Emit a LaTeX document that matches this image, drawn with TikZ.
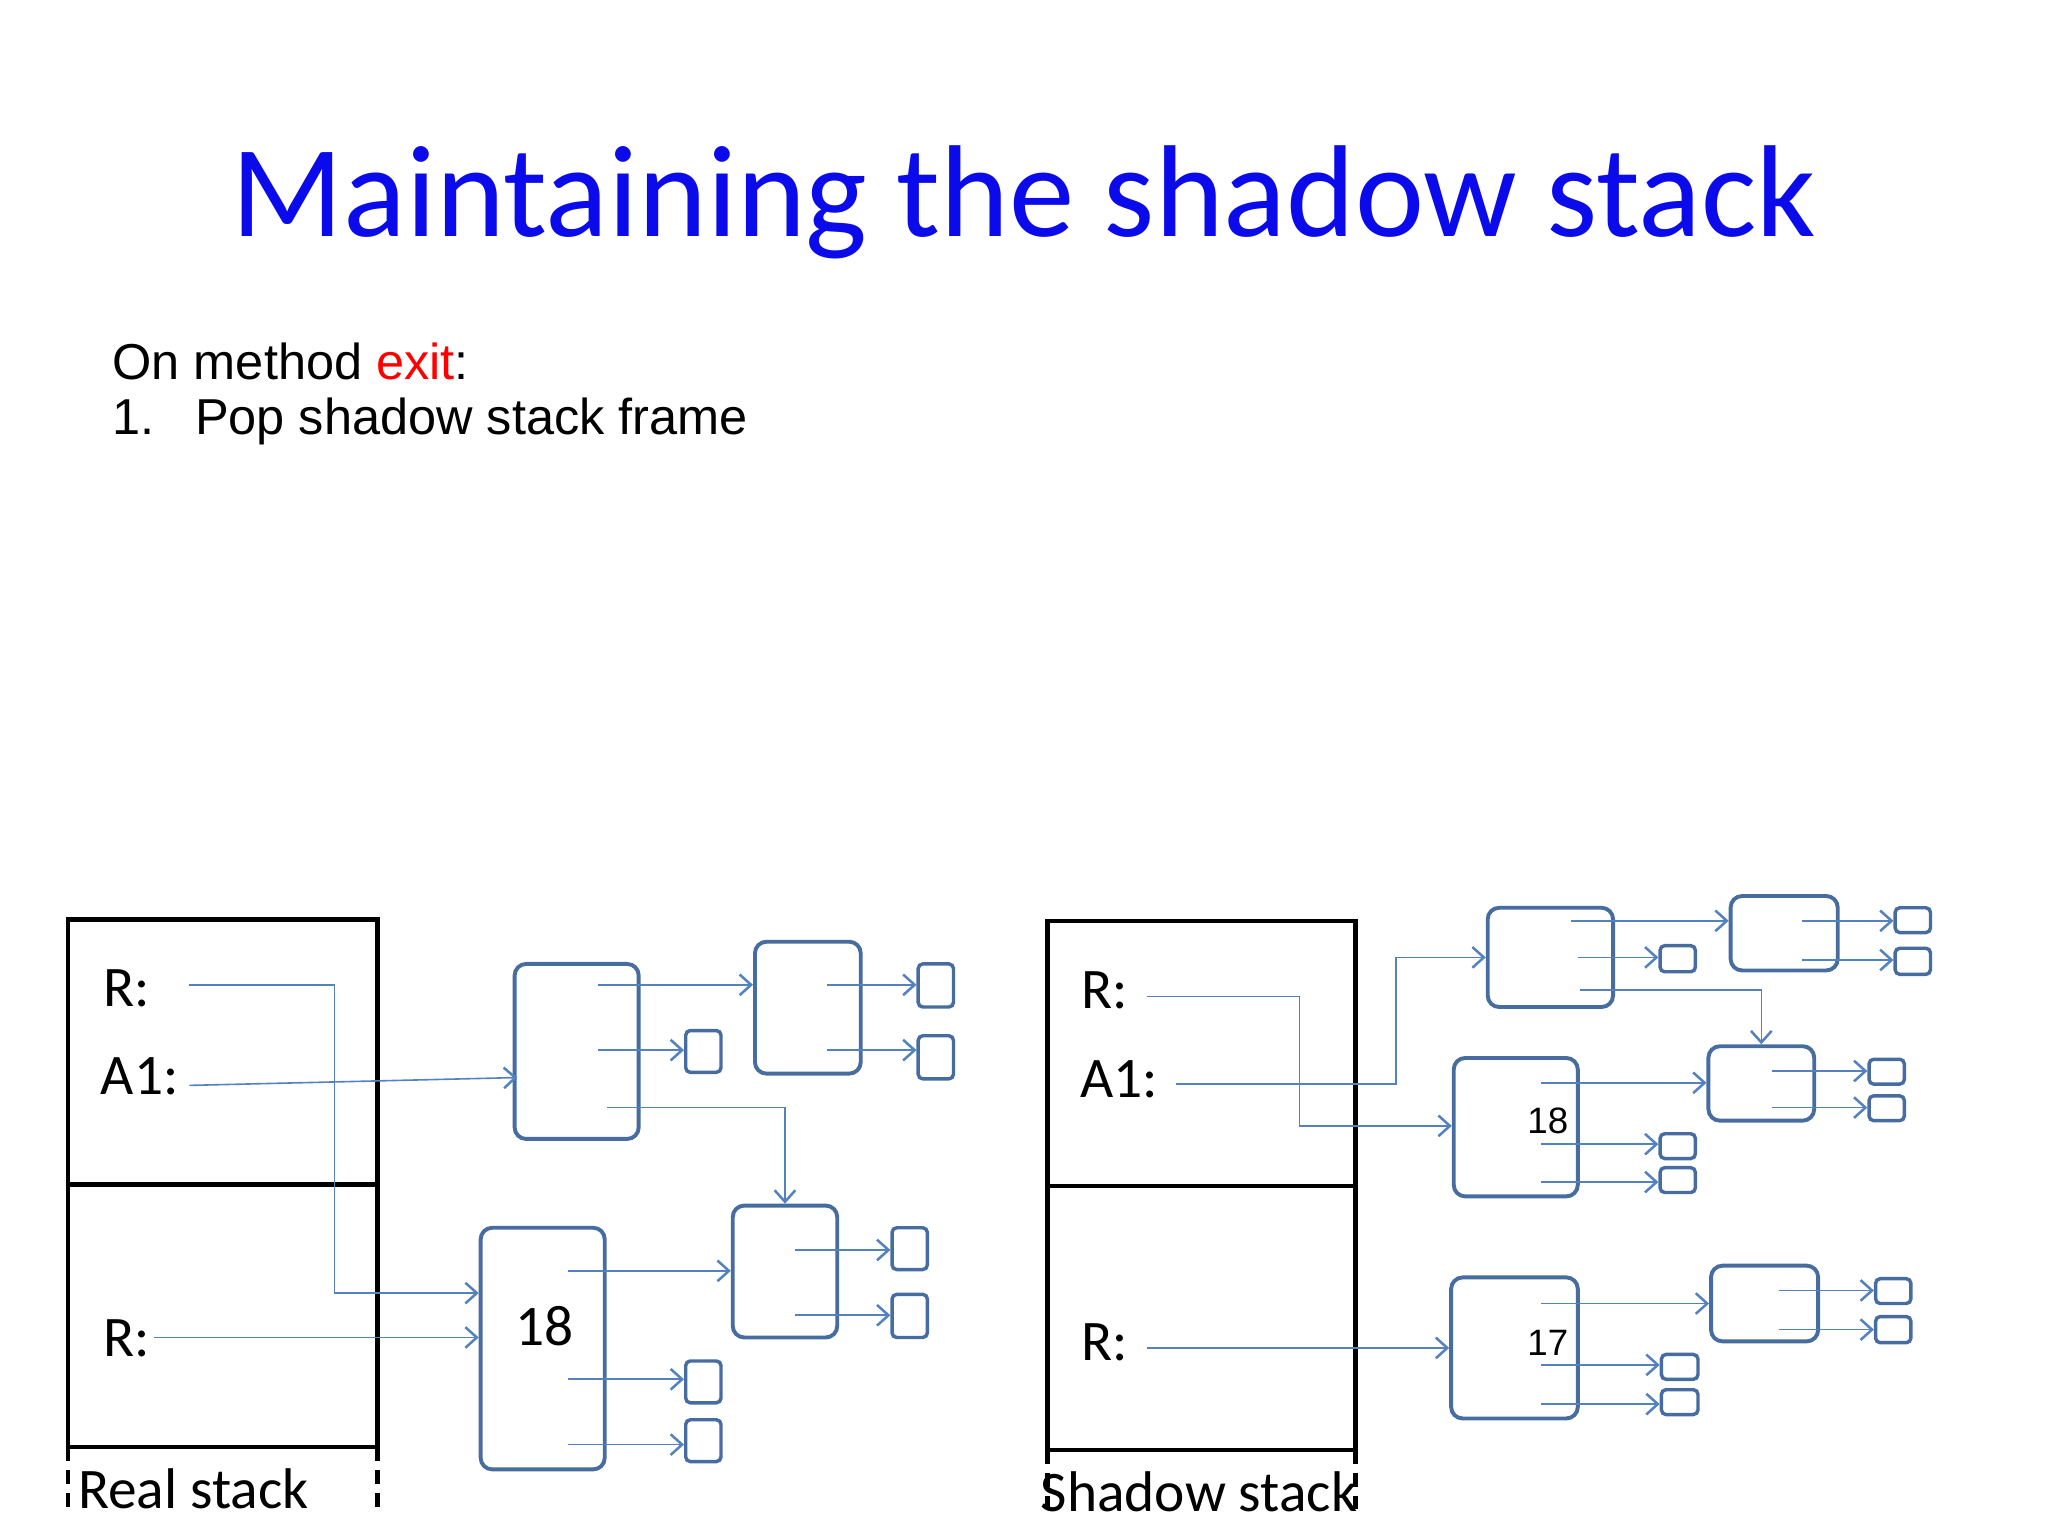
\documentclass[tikz,border=0pt]{standalone}
\usepackage{fontspec}
\setmainfont{Carlito}
\newfontfamily\arialf{Liberation Sans}
\usetikzlibrary{arrows.meta}
\definecolor{boxc}{RGB}{70,108,160}
\definecolor{arrc}{RGB}{84,130,190}
\definecolor{titleb}{RGB}{10,10,235}
\tikzset{
 obj/.style={draw=boxc,line width=1.7pt,rounded corners=5pt,inner sep=0pt},
 sobj/.style={draw=boxc,line width=1.5pt,rounded corners=2pt,inner sep=0pt},
 ptr/.style={draw=arrc,line width=0.7pt,-{Straight Barb[length=5pt,width=9pt,line width=1.1pt]}},
 stk/.style={draw=black,line width=2pt},
 lbl/.style={font=\fontsize{25}{28}\selectfont,anchor=center,inner sep=0pt}
}
\newcommand\bx[6][obj]{\node[#1,minimum width={(#5-#3)*0.2mm},minimum height={(#6-#4)*0.2mm}] (#2) at ({(#3+#5)/2},{-(#4+#6)/2}) {};}
\begin{document}
\begin{tikzpicture}[x=0.02cm,y=0.02cm]
\useasboundingbox (0,0) rectangle (1568,-1176);
\node[font=\fontsize{57}{60}\selectfont,text=titleb] (title) at (784,-155) {Maintaining the shadow stack};
\node[font=\arialf\fontsize{22}{26}\selectfont,anchor=west] (l1) at (80,-277) {On method \textcolor{red}{exit}:};
\node[font=\arialf\fontsize{22}{26}\selectfont,anchor=west] (l2) at (80,-323) {1.\hspace{0.8em}Pop shadow stack frame};

% Real stack
\draw[stk] (52,-1108) -- (52,-704) -- (289,-704) -- (289,-1108) -- cycle;
\draw[stk] (52,-907) -- (289,-907);
\draw[stk,dashed,dash pattern=on 6pt off 4pt] (52,-1108) -- (52,-1160) (289,-1108) -- (289,-1160);
\node[lbl] (rs) at (148,-1140) {Real stack};
\node[lbl] (rR1) at (97,-757) {R:};
\node[lbl] (rA1) at (107,-824) {A1:};
\node[lbl] (rR2) at (97,-1025) {R:};

\bx{A}{394}{738}{489}{872}
\bx{B}{578}{721}{659}{822}
\bx[sobj]{a1}{525}{789}{552}{821}
\bx[sobj]{b1}{703}{738}{730}{771}
\bx[sobj]{b2}{703}{793}{730}{826}
\bx{C}{561}{923}{641}{1024}
\bx[sobj]{c1}{683}{940}{710}{972}
\bx[sobj]{c2}{683}{991}{710}{1024}
\bx{D}{368}{940}{463}{1125}
\bx[sobj]{d1}{525}{1042}{552}{1074}
\bx[sobj]{d2}{525}{1087}{552}{1119}
\node[lbl] (t18) at (417,-1015) {18};

\draw[ptr] (145,-754) -| (256,-990) -- (D.west|-0,-990);
\draw[ptr] (145,-831) -- (396,-825);
\draw[ptr] (118,-1024) -- (D.west|-0,-1024);
\draw[ptr] (458,-754) -- (B.west|-0,-754);
\draw[ptr] (458,-804) -- (a1.west|-0,-804);
\draw[ptr] (465,-848) -| (C.north);
\draw[ptr] (633,-754) -- (b1.west|-0,-754);
\draw[ptr] (633,-804) -- (b2.west|-0,-804);
\draw[ptr] (609,-957) -- (c1.west|-0,-957);
\draw[ptr] (609,-1007) -- (c2.west|-0,-1007);
\draw[ptr] (435,-973) -- (C.west|-0,-973);
\draw[ptr] (435,-1056) -- (d1.west|-0,-1056);
\draw[ptr] (435,-1106) -- (d2.west|-0,-1106);

% Shadow stack
\draw[stk] (802,-1110) -- (802,-705) -- (1038,-705) -- (1038,-1110) -- cycle;
\draw[stk] (802,-908) -- (1038,-908);
\draw[stk,dashed,dash pattern=on 6pt off 4pt] (802,-1110) -- (802,-1162) (1038,-1110) -- (1038,-1162);
\node[lbl] (ss) at (918,-1142) {Shadow stack};
\node[lbl] (sR1) at (846,-758) {R:};
\node[lbl] (sA1) at (857,-826) {A1:};
\node[lbl] (sR2) at (846,-1028) {R:};

\bx{E}{1139}{695}{1235}{771}
\bx{F}{1325}{686}{1407}{743}
\bx[sobj]{e1}{1271}{724}{1298}{744}
\bx[sobj]{f1}{1451}{695}{1478}{714}
\bx[sobj]{f2}{1451}{726}{1478}{746}
\bx{G}{1113}{810}{1208}{916}
\bx{H}{1308}{801}{1389}{858}
\bx[sobj]{g1}{1271}{868}{1298}{887}
\bx[sobj]{g2}{1271}{894}{1298}{913}
\bx[sobj]{h1}{1431}{811}{1458}{830}
\bx[sobj]{h2}{1431}{839}{1458}{858}
\bx{I}{1111}{978}{1208}{1086}
\bx{J}{1310}{969}{1392}{1027}
\bx[sobj]{i1}{1272}{1037}{1300}{1056}
\bx[sobj]{i2}{1272}{1064}{1300}{1083}
\bx[sobj]{j1}{1436}{979}{1463}{998}
\bx[sobj]{j2}{1436}{1008}{1463}{1028}
\node[font=\arialf\fontsize{16}{18}\selectfont] (s18) at (1185,-858) {18};
\node[font=\arialf\fontsize{16}{18}\selectfont] (s17) at (1185,-1028) {17};

\draw[ptr] (878,-763) -| (995,-862) -- (G.west|-0,-862);
\draw[ptr] (900,-830) -| (1069,-733) -- (E.west|-0,-733);
\draw[ptr] (878,-1032) -- (I.west|-0,-1032);
\draw[ptr] (1203,-705) -- (F.west|-0,-705);
\draw[ptr] (1208,-733) -- (e1.west|-0,-733);
\draw[ptr] (1210,-758) -| (H.north);
\draw[ptr] (1380,-705) -- (f1.west|-0,-705);
\draw[ptr] (1380,-735) -- (f2.west|-0,-735);
\draw[ptr] (1180,-829) -- (H.west|-0,-829);
\draw[ptr] (1180,-876) -- (g1.west|-0,-876);
\draw[ptr] (1180,-905) -- (g2.west|-0,-905);
\draw[ptr] (1357,-820) -- (h1.west|-0,-820);
\draw[ptr] (1357,-848) -- (h2.west|-0,-848);
\draw[ptr] (1180,-998) -- (J.west|-0,-998);
\draw[ptr] (1180,-1045) -- (i1.west|-0,-1045);
\draw[ptr] (1180,-1075) -- (i2.west|-0,-1075);
\draw[ptr] (1362,-988) -- (j1.west|-0,-988);
\draw[ptr] (1362,-1018) -- (j2.west|-0,-1018);
\end{tikzpicture}
\end{document}
